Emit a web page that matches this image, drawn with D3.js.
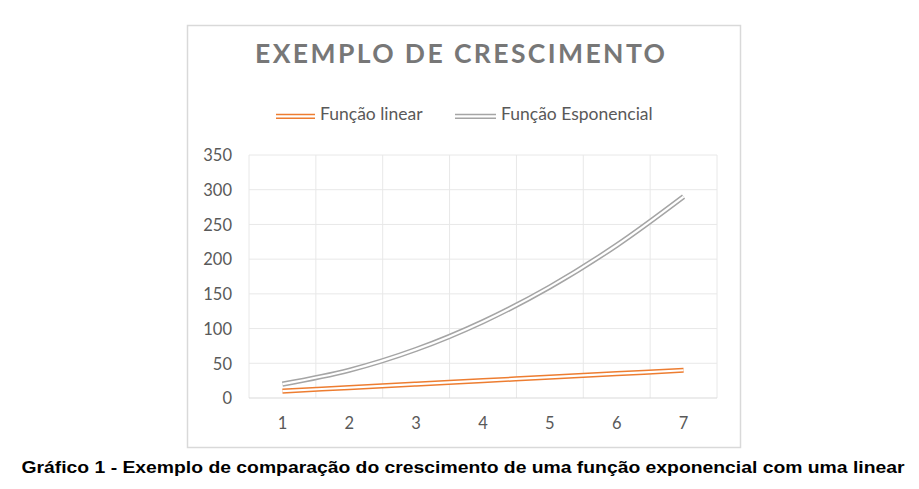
<!DOCTYPE html>
<html>
<head>
<meta charset="utf-8">
<script src="https://cdn.jsdelivr.net/npm/d3@7"></script>
<style>
  html, body { margin: 0; padding: 0; background: #ffffff; }
  svg { display: block; }
</style>
</head>
<body>
<svg id="chart" width="919" height="489"></svg>
<script>
const categories = [1, 2, 3, 4, 5, 6, 7];
const linearValues = [10, 15, 20, 25, 30, 35, 40];
const expValues = [20, 40, 70, 110, 160, 220, 290];
const yTicks = [0, 50, 100, 150, 200, 250, 300, 350];
const seriesNames = ["Função linear", "Função Esponencial"];
const titleText = "EXEMPLO DE CRESCIMENTO";
const captionText = "Gráfico 1 - Exemplo de comparação do crescimento de uma função exponencial com uma linear";

const svg = d3.select("#chart");
const font = "Lato, 'Open Sans', sans-serif";
const colors = ["#ED7D31", "#A5A5A5"];

// chart border
svg.append("rect").attr("x", 187.5).attr("y", 25.5).attr("width", 553).attr("height", 422)
  .attr("fill", "#fff").attr("stroke", "#d9d9d9").attr("stroke-width", 1.5);

const plot = { left: 249, right: 717, top: 155, bottom: 398 };
const x = d3.scaleBand().domain(categories).range([plot.left, plot.right]).padding(0);
const y = d3.scaleLinear().domain([0, 350]).range([plot.bottom, plot.top]);

// horizontal gridlines
svg.append("g").selectAll("line").data(yTicks.filter(d => d > 0)).join("line")
  .attr("x1", plot.left).attr("x2", plot.right)
  .attr("y1", d => y(d)).attr("y2", d => y(d))
  .attr("stroke", "#e8e8e8").attr("stroke-width", 1);
// vertical gridlines at category boundaries
const bounds = categories.map(c => x(c)).concat([x(categories[categories.length - 1]) + x.bandwidth()]);
svg.append("g").selectAll("line").data(bounds).join("line")
  .attr("x1", d => d).attr("x2", d => d)
  .attr("y1", plot.top).attr("y2", plot.bottom)
  .attr("stroke", "#e8e8e8").attr("stroke-width", 1);
// bottom axis line
svg.append("line").attr("x1", plot.left).attr("x2", plot.right)
  .attr("y1", y(0)).attr("y2", y(0)).attr("stroke", "#d9d9d9").attr("stroke-width", 1.2);

// y axis labels
const yAxis = d3.axisLeft(y).tickValues(yTicks).tickSize(0).tickPadding(0);
const gy = svg.append("g").attr("transform", `translate(232,0)`).call(yAxis);
gy.select(".domain").remove();
gy.selectAll("text").attr("font-family", font).attr("font-size", 16.5).attr("fill", "#595959")
  .attr("dy", "0.35em");

// x axis labels
const xAxis = d3.axisBottom(x).tickSize(0).tickPadding(0);
const gx = svg.append("g").attr("transform", `translate(0,${y(0)})`).call(xAxis);
gx.select(".domain").remove();
gx.selectAll("text").attr("font-family", font).attr("font-size", 16.5).attr("fill", "#595959")
  .attr("dy", null).attr("y", 31);

// lines
const line = d3.line()
  .x((d, i) => x(categories[i]) + x.bandwidth() / 2)
  .y(d => y(d))
  .curve(d3.curveCatmullRom.alpha(0.5));

[[linearValues, colors[0]], [expValues, colors[1]]].forEach(([vals, col]) => {
  svg.append("path").datum(vals).attr("d", line).attr("fill", "none")
    .attr("stroke", col).attr("stroke-width", 5.2).attr("stroke-linecap", "butt");
  svg.append("path").datum(vals).attr("d", line).attr("fill", "none")
    .attr("stroke", "#fff").attr("stroke-width", 2.2).attr("stroke-linecap", "butt");
});

// title
svg.append("text").attr("x", 460).attr("y", 62.5).attr("text-anchor", "middle")
  .attr("font-family", font).attr("font-weight", "bold").attr("font-size", 26.5)
  .attr("fill", "#777777").attr("textLength", 410).attr("lengthAdjust", "spacing")
  .text(titleText);

// legend
const legend = [
  { name: seriesNames[0], color: colors[0], x1: 276, x2: 315, tx: 320 },
  { name: seriesNames[1], color: colors[1], x1: 455, x2: 496, tx: 501 }
];
legend.forEach(l => {
  svg.append("line").attr("x1", l.x1).attr("x2", l.x2).attr("y1", 114.5).attr("y2", 114.5)
    .attr("stroke", l.color).attr("stroke-width", 1.6);
  svg.append("line").attr("x1", l.x1).attr("x2", l.x2).attr("y1", 118.3).attr("y2", 118.3)
    .attr("stroke", l.color).attr("stroke-width", 1.6);
  svg.append("text").attr("x", l.tx).attr("y", 119.5).attr("font-family", font)
    .attr("font-size", 17.5).attr("fill", "#595959").text(l.name);
});

// caption
svg.append("text").attr("x", 463).attr("y", 473).attr("text-anchor", "middle")
  .attr("font-family", "'Liberation Sans', Arial, sans-serif").attr("font-weight", "bold")
  .attr("font-size", 17).attr("fill", "#000")
  .attr("textLength", 883).attr("lengthAdjust", "spacingAndGlyphs")
  .text(captionText);
</script>
</body>
</html>
